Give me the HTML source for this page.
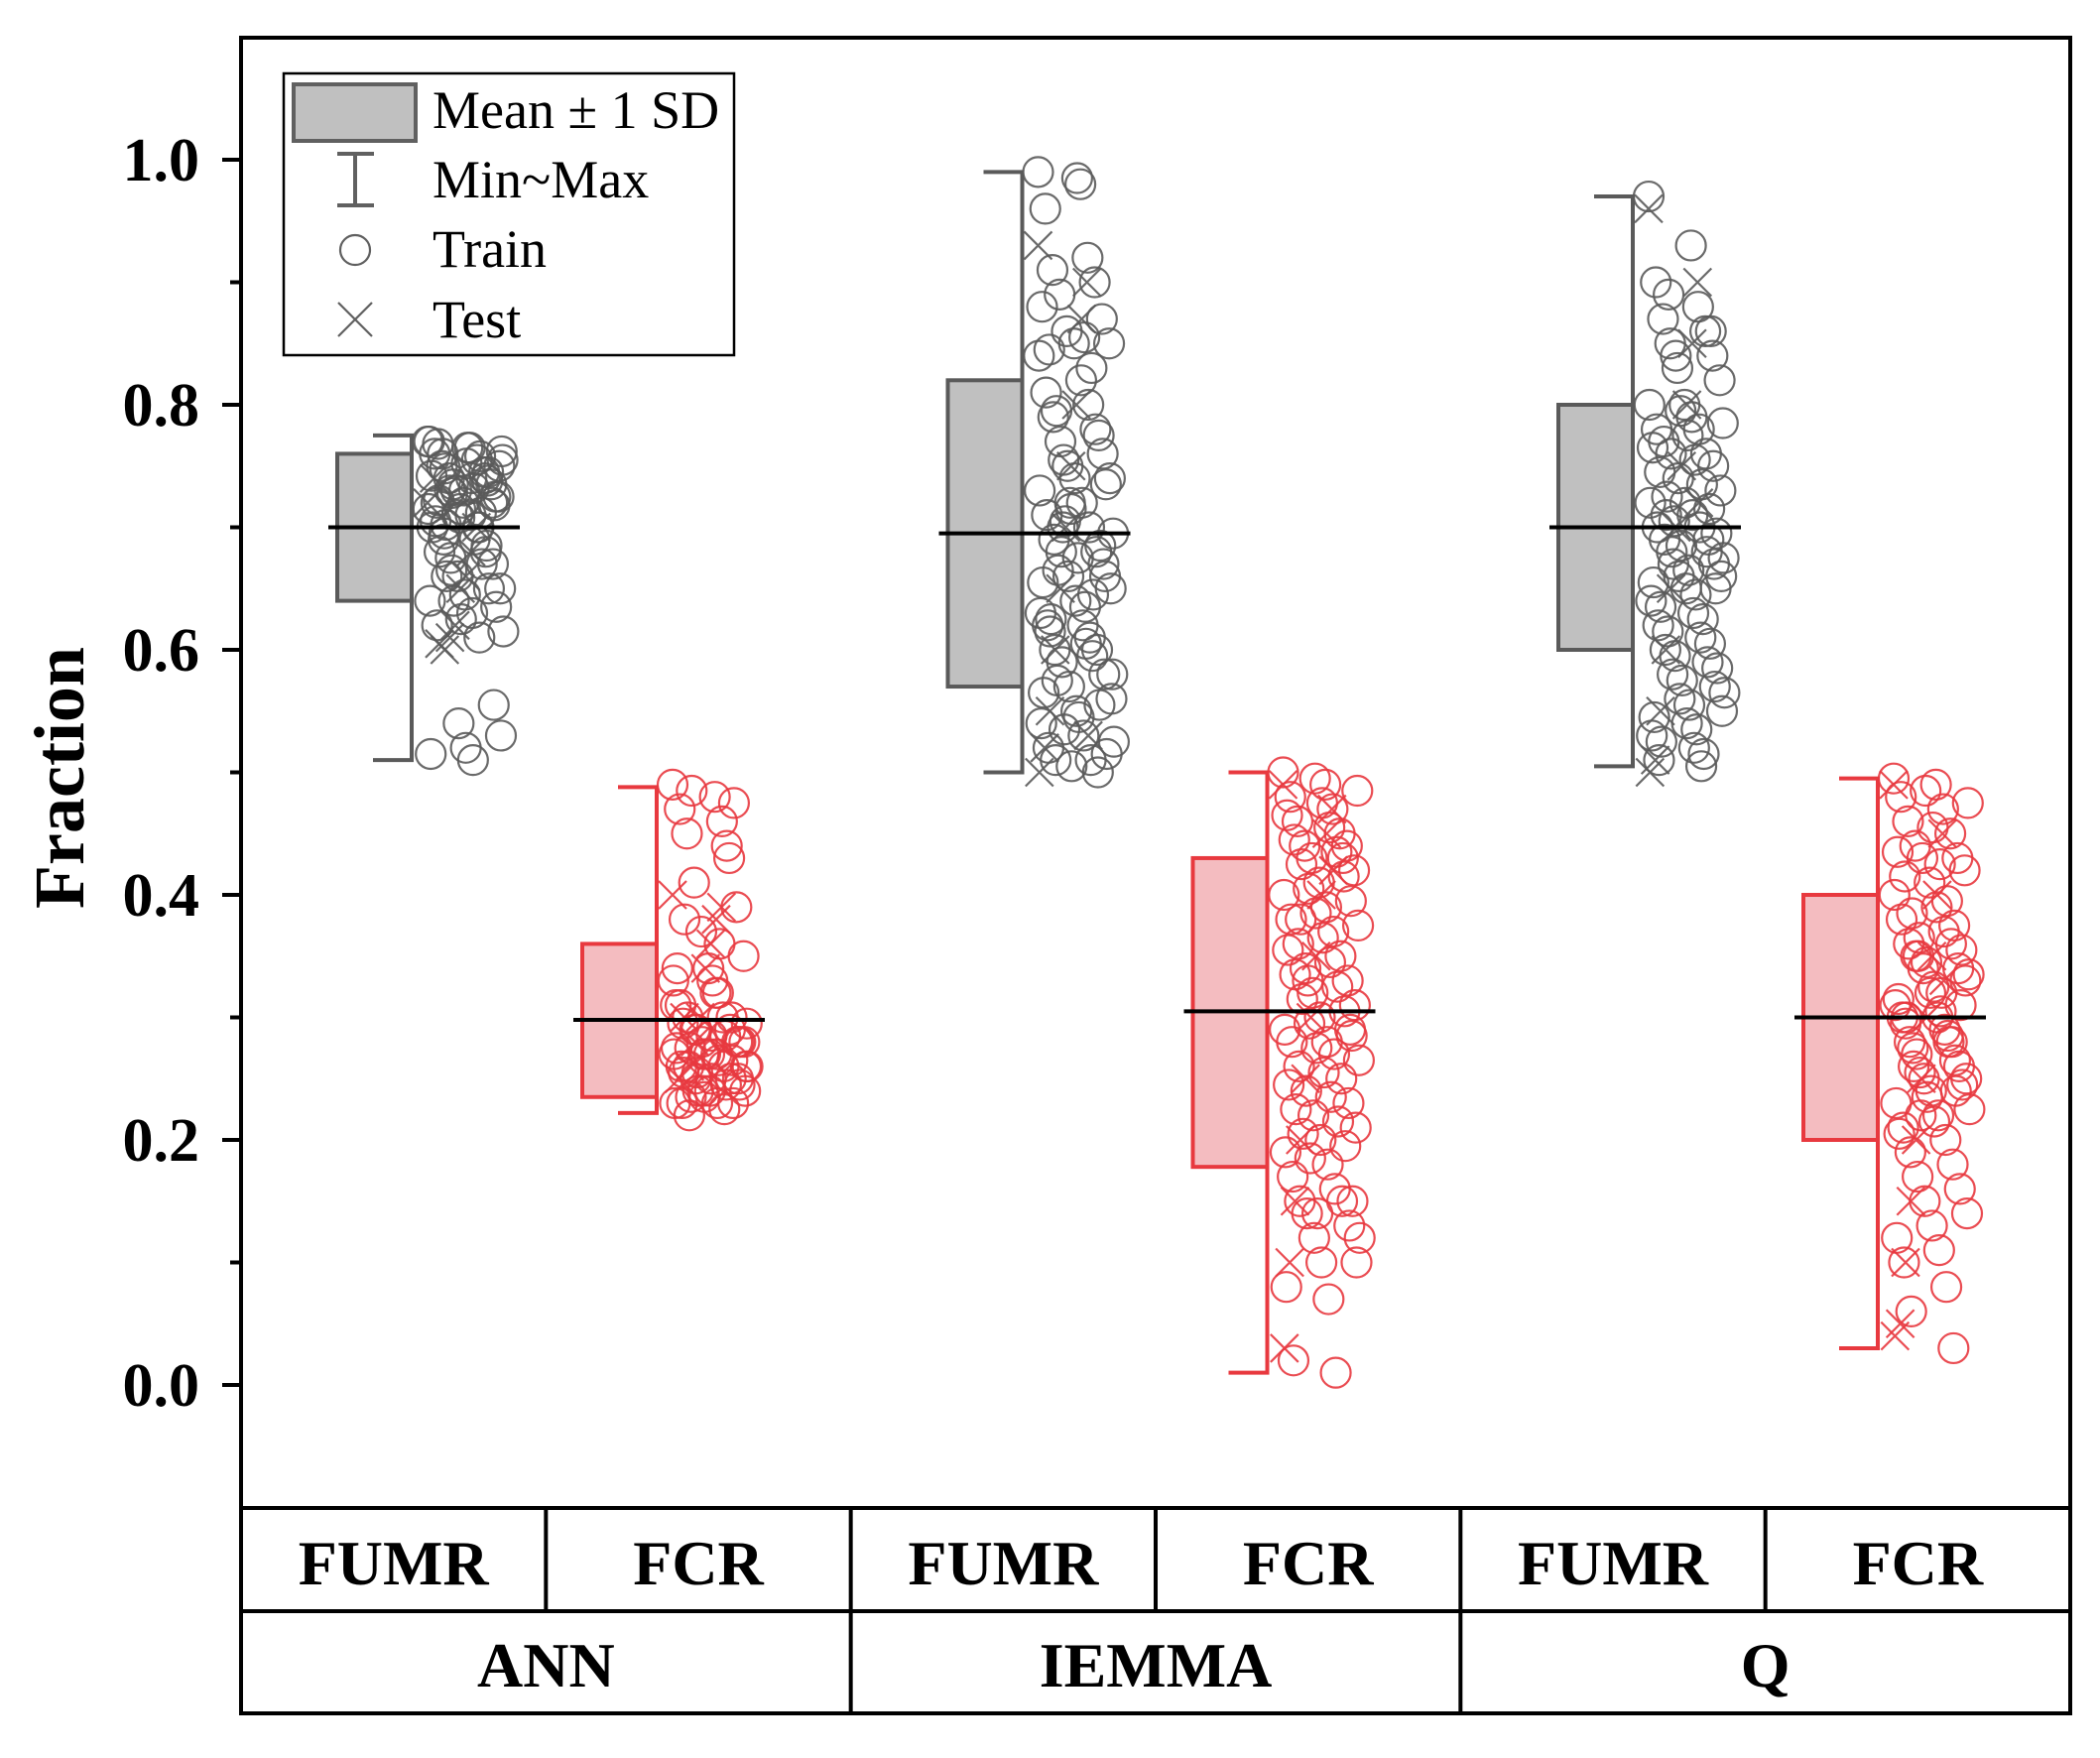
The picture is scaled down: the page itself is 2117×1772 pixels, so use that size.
<!DOCTYPE html>
<html><head><meta charset="utf-8"><style>
html,body{margin:0;padding:0;background:#fff}
svg{display:block}
</style></head><body>
<svg id="chart" width="2117" height="1772" viewBox="0 0 2117 1772" xmlns="http://www.w3.org/2000/svg" font-family="'Liberation Serif', serif">
<g id="axes"></g>
<g id="marks"></g>
<g id="legend">
  <rect x="286" y="74" width="454" height="284" fill="#fff" stroke="#000" stroke-width="2.5"/>
  <rect x="296" y="85" width="123" height="57" fill="#c0c0c0" stroke="#606060" stroke-width="4"/>
  <text x="436" y="129" font-size="54" fill="#000">Mean ± 1 SD</text>
  <path d="M340 155 H377 M358 155 V207 M340 207 H377" stroke="#606060" stroke-width="4" fill="none"/>
  <text x="436" y="199" font-size="54" fill="#000">Min~Max</text>
  <circle cx="358" cy="252" r="15" fill="none" stroke="#606060" stroke-width="2.2"/>
  <text x="436" y="269" font-size="54" fill="#000">Train</text>
  <path d="M341 305 L375 339 M375 305 L341 339" stroke="#606060" stroke-width="2.2" fill="none"/>
  <text x="436" y="340" font-size="54" fill="#000">Test</text>
</g>
</svg>
<script>
const categories = ["ANN FUMR","ANN FCR","IEMMA FUMR","IEMMA FCR","Q FUMR","Q FCR"];
const groupNames = ["ANN","IEMMA","Q"];
const means = [0.70,0.298,0.695,0.305,0.70,0.30];
const sdLow = [0.64,0.235,0.57,0.178,0.60,0.20];
const sdHigh = [0.76,0.36,0.82,0.43,0.80,0.40];
const mins = [0.51,0.222,0.50,0.01,0.505,0.03];
const maxs = [0.775,0.488,0.99,0.50,0.97,0.495];
const yTicks = [0.0,0.2,0.4,0.6,0.8,1.0];
const yTickLabels = ["0.0","0.2","0.4","0.6","0.8","1.0"];
const train0 = [0.77,0.765,0.76,0.755,0.75,0.745,0.74,0.735,0.73,0.725,0.72,0.715,0.71,0.705,0.70,0.76,0.74,0.73,0.72,0.71,0.75,0.73,0.77,0.74,0.72,0.70,0.69,0.68,0.675,0.67,0.66,0.65,0.645,0.64,0.63,0.62,0.61,0.695,0.685,0.665,0.555,0.54,0.53,0.52,0.515,0.51,0.768,0.758,0.748,0.738,0.728,0.718,0.708,0.762,0.752,0.742,0.732,0.722,0.712,0.702,0.745,0.735,0.725,0.715,0.755,0.765,0.70,0.69,0.68,0.67,0.66,0.65,0.64,0.635,0.625,0.615];
const test0 = [0.72,0.70,0.68,0.66,0.65,0.62,0.61,0.60,0.605,0.74];
const train1 = [0.49,0.48,0.47,0.46,0.45,0.43,0.41,0.39,0.37,0.35,0.34,0.33,0.32,0.31,0.30,0.30,0.29,0.29,0.28,0.28,0.28,0.27,0.27,0.27,0.26,0.26,0.26,0.25,0.25,0.25,0.24,0.24,0.24,0.23,0.23,0.23,0.225,0.22,0.30,0.29,0.28,0.27,0.26,0.25,0.31,0.32,0.295,0.285,0.275,0.265,0.255,0.245,0.235,0.295,0.285,0.275,0.265,0.255,0.245,0.235,0.23,0.24,0.28,0.27,0.26,0.33,0.34,0.36,0.38,0.44,0.485,0.475];
const test1 = [0.40,0.39,0.38,0.36,0.34,0.30,0.28,0.26,0.30,0.25];
const train2 = [0.99,0.98,0.96,0.92,0.91,0.90,0.89,0.87,0.86,0.85,0.85,0.84,0.82,0.81,0.80,0.79,0.78,0.77,0.76,0.75,0.74,0.74,0.73,0.72,0.71,0.70,0.69,0.68,0.68,0.67,0.66,0.65,0.64,0.63,0.62,0.62,0.61,0.60,0.60,0.59,0.58,0.57,0.56,0.55,0.54,0.53,0.52,0.51,0.51,0.50,0.70,0.66,0.72,0.58,0.985,0.88,0.855,0.845,0.83,0.795,0.775,0.755,0.735,0.715,0.695,0.675,0.655,0.635,0.615,0.595,0.575,0.555,0.535,0.515,0.505,0.525,0.545,0.565,0.605,0.625,0.645,0.665,0.685,0.705];
const test2 = [0.93,0.90,0.87,0.80,0.75,0.70,0.65,0.60,0.55,0.52,0.50,0.53];
const train3 = [0.50,0.49,0.48,0.47,0.46,0.45,0.44,0.44,0.43,0.42,0.41,0.40,0.39,0.38,0.37,0.36,0.35,0.34,0.33,0.32,0.31,0.30,0.29,0.28,0.28,0.27,0.26,0.25,0.24,0.23,0.22,0.21,0.20,0.19,0.18,0.17,0.16,0.15,0.15,0.14,0.13,0.12,0.10,0.10,0.08,0.07,0.02,0.01,0.38,0.43,0.33,0.29,0.495,0.485,0.475,0.465,0.455,0.445,0.435,0.425,0.415,0.405,0.395,0.385,0.375,0.365,0.355,0.345,0.335,0.325,0.315,0.305,0.295,0.285,0.275,0.265,0.255,0.245,0.235,0.225,0.215,0.205,0.195,0.185,0.15,0.14,0.12];
const test3 = [0.49,0.47,0.45,0.40,0.35,0.30,0.25,0.20,0.15,0.10,0.03,0.42];
const train4 = [0.97,0.93,0.90,0.88,0.87,0.86,0.85,0.84,0.83,0.82,0.80,0.80,0.79,0.78,0.78,0.77,0.76,0.76,0.75,0.74,0.73,0.72,0.72,0.71,0.70,0.70,0.69,0.68,0.68,0.67,0.66,0.66,0.65,0.64,0.63,0.62,0.61,0.60,0.59,0.58,0.57,0.56,0.55,0.54,0.53,0.52,0.51,0.505,0.71,0.69,0.67,0.65,0.795,0.785,0.775,0.765,0.755,0.745,0.735,0.725,0.715,0.705,0.695,0.685,0.675,0.665,0.655,0.645,0.635,0.625,0.615,0.605,0.595,0.585,0.575,0.565,0.555,0.545,0.535,0.525,0.515,0.89,0.86,0.84];
const test4 = [0.96,0.90,0.85,0.80,0.75,0.70,0.65,0.60,0.55,0.51,0.50,0.72];
const train5 = [0.495,0.49,0.48,0.47,0.46,0.45,0.44,0.43,0.43,0.42,0.41,0.40,0.39,0.38,0.37,0.36,0.36,0.35,0.34,0.34,0.33,0.32,0.31,0.30,0.30,0.29,0.28,0.28,0.27,0.26,0.25,0.25,0.24,0.23,0.22,0.21,0.20,0.19,0.18,0.17,0.16,0.15,0.14,0.13,0.12,0.11,0.10,0.08,0.06,0.03,0.35,0.31,0.485,0.475,0.455,0.435,0.425,0.415,0.395,0.385,0.375,0.365,0.355,0.345,0.335,0.325,0.315,0.305,0.295,0.285,0.275,0.265,0.255,0.245,0.235,0.225,0.215,0.205,0.32,0.30,0.28,0.26,0.24,0.22];
const test5 = [0.49,0.45,0.40,0.35,0.30,0.25,0.20,0.15,0.10,0.05,0.04,0.33];

const trains=[train0,train1,train2,train3,train4,train5];
const tests=[test0,test1,test2,test3,test4,test5];
const NS="http://www.w3.org/2000/svg";
const L=243,T=38,R=2087,TB=1520,TM=1624,BOT=1727;
const y=v=>1396-(v-0)*1235;
const colW=(R-L)/6;
const xLine=i=>{const g=Math.floor(i/2);return 415+g*615.5+(i%2)*247;};
function el(tag,attrs,parent){const e=document.createElementNS(NS,tag);for(const k in attrs)e.setAttribute(k,attrs[k]);parent.appendChild(e);return e;}
const axes=document.getElementById('axes'),marks=document.getElementById('marks');

let fr=el('rect',{x:L,y:T,width:R-L,height:BOT-T,fill:'none',stroke:'#000','stroke-width':4},axes);


let tl=el('path',{d:`M${L} ${TB} H${R} M${L} ${TM} H${R}`,stroke:'#000','stroke-width':4},axes);


for(let i=1;i<6;i++){
  const x=L+colW*i;
  const d=(i%2===0)?`M${x} ${TB} V${BOT}`:`M${x} ${TB} V${TM}`;
  const ln=el('path',{d,stroke:'#000','stroke-width':4},axes);
  
  
}
categories.forEach((c,i)=>{
  const t=el('text',{x:L+colW*(i+0.5),y:1597,'text-anchor':'middle','font-size':64,'font-weight':'bold'},axes);
  t.textContent=c.split(' ')[1];
  
  
});
groupNames.forEach((g,i)=>{
  const t=el('text',{x:L+colW*(2*i+1),y:1700,'text-anchor':'middle','font-size':64,'font-weight':'bold'},axes);
  t.textContent=g;
  
  
});
yTicks.forEach((v,i)=>{
  const tk=el('path',{d:`M${L-19} ${y(v)} H${L}`,stroke:'#000','stroke-width':4},axes);
  
  
  const t=el('text',{x:201,y:y(v)+21,'text-anchor':'end','font-size':62,'font-weight':'bold'},axes);
  t.textContent=yTickLabels[i];
  
  
  if(i<yTicks.length-1){
    const mk=el('path',{d:`M${L-11} ${y(v+0.1)} H${L}`,stroke:'#000','stroke-width':4},axes);
    
    
  }
});
const yt=el('text',{x:0,y:0,transform:'translate(84,784) rotate(-90)','text-anchor':'middle','font-size':72,'font-weight':'bold'},axes);
yt.textContent='Fraction';



categories.forEach((c,i)=>{
  const red=i%2===1;
  const stroke=red?'#e8393f':'#5a5a5a';
  const fill=red?'#f4bcc0':'#c0c0c0';
  const xl=xLine(i);
  const g=el('g',{},marks);
  
  
  const box=el('rect',{x:xl-75,y:y(sdHigh[i]),width:75,height:y(sdLow[i])-y(sdHigh[i]),fill,stroke,'stroke-width':4},g);
  
  
  const wh=el('path',{d:`M${xl-39} ${y(maxs[i])} H${xl} V${y(mins[i])} H${xl-39}`,fill:'none',stroke,'stroke-width':4},g);
  
  
  const spread=78;
  trains[i].forEach((v,k)=>{
    const dx=16+((k*53)%97)/97*spread;
    const cc=el('circle',{cx:xl+dx,cy:y(v),r:15,fill:'none',stroke,'stroke-width':2.2,'stroke-opacity':0.9},g);
    
    
  });
  tests[i].forEach((v,k)=>{
    const cx=xl+16+((k*37)%41)/41*(spread*0.7);
    const cy=y(v);
    const xx=el('path',{d:`M${cx-14} ${cy-14} L${cx+14} ${cy+14} M${cx+14} ${cy-14} L${cx-14} ${cy+14}`,stroke,'stroke-width':2.2,'stroke-opacity':0.9},g);
    
    
  });
  const ml=el('path',{d:`M${xl-84} ${y(means[i])} H${xl+109}`,stroke:'#000','stroke-width':4},g);
  
  
});
</script>
</body></html>
